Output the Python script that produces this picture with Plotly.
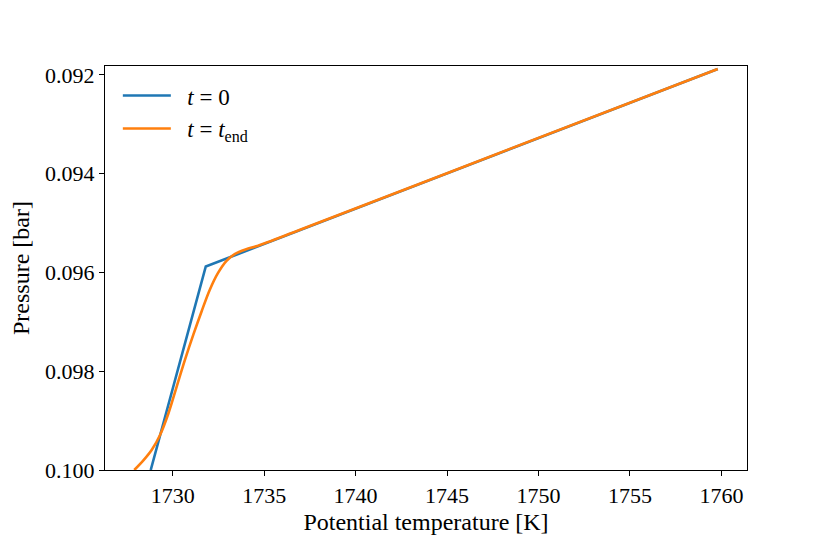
import plotly.graph_objects as go

# Initial profile (t = 0)
theta_init = [1728.80, 1731.81, 1759.8]
p_init = [0.1000, 0.09588, 0.09188]

# Final profile (t = t_end)
theta_end = [1727.90, 1728.41, 1728.86, 1729.31, 1729.77, 1730.22, 1730.67,
             1731.13, 1731.58, 1732.03, 1732.48, 1732.93, 1733.39, 1734.02,
             1734.57, 1737.0, 1745.0, 1759.8]
p_end = [0.10000, 0.09980, 0.09959, 0.09929, 0.09885, 0.09831, 0.09777,
         0.09726, 0.09679, 0.09635, 0.09601, 0.09577, 0.09563, 0.09553,
         0.09547, 0.09513, 0.09399, 0.09188]

y_ticks = [0.092, 0.094, 0.096, 0.098, 0.100]
x_ticks = [1730, 1735, 1740, 1745, 1750, 1755, 1760]

FONT = "Liberation Serif"

fig = go.Figure()
fig.add_trace(go.Scatter(x=theta_init, y=p_init, mode="lines",
                         line=dict(color="#1f77b4", width=2.6),
                         name="&nbsp;&nbsp;<i>t</i> = 0"))
fig.add_trace(go.Scatter(x=theta_end, y=p_end, mode="lines",
                         line=dict(color="#ff7f0e", width=2.6, shape="spline", smoothing=1.0),
                         name="&nbsp;&nbsp;<i>t</i> = <i>t</i><sub>end</sub>"))

axis_common = dict(showline=True, linecolor="black", linewidth=1.2, mirror=True,
                   ticks="outside", ticklen=5, tickwidth=1.2, tickcolor="black",
                   showgrid=False, zeroline=False,
                   tickfont=dict(family=FONT, size=22, color="black"))

fig.update_xaxes(range=[1726.3, 1761.4], tickvals=x_ticks,
                 ticktext=[str(v) for v in x_ticks],
                 title=dict(text="Potential temperature [K]",
                            font=dict(family=FONT, size=24, color="black"), standoff=6),
                 **axis_common)
fig.update_yaxes(range=[0.1, 0.09182], tickvals=y_ticks,
                 ticktext=[f"{v:.3f}" for v in y_ticks],
                 title=dict(text="Pressure [bar]",
                            font=dict(family=FONT, size=24, color="black"), standoff=8),
                 **axis_common)

fig.update_layout(width=830, height=554,
                  margin=dict(l=94, r=91, t=58, b=92),
                  paper_bgcolor="white", plot_bgcolor="white",
                  font=dict(family=FONT, size=22, color="black"),
                  legend=dict(x=0.02, y=0.98, xanchor="left", yanchor="top",
                              bgcolor="rgba(0,0,0,0)", borderwidth=0,
                              font=dict(family=FONT, size=23, color="black"),
                              tracegroupgap=0, itemwidth=48),
                  showlegend=True)

fig.write_html("out.html")
